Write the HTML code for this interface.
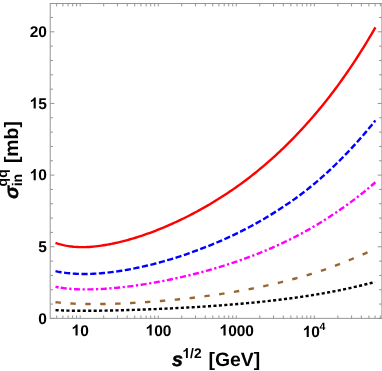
<!DOCTYPE html>
<html><head><meta charset="utf-8"><style>
html,body{margin:0;padding:0;background:#fff;}
svg{display:block;will-change:transform;}
text{font-family:"Liberation Sans",sans-serif;font-weight:bold;fill:#000;text-rendering:geometricPrecision;}
.t{font-size:15.5px;}
.l{font-size:19.4px;}
</style></head><body>
<svg width="382" height="371" viewBox="0 0 382 371">
<rect width="382" height="371" fill="#fff"/>
<path d="M55.50,310.10 L57.50,310.20 L59.49,310.30 L61.49,310.38 L63.49,310.46 L65.48,310.52 L67.48,310.58 L69.48,310.63 L71.47,310.67 L73.47,310.71 L75.47,310.73 L77.47,310.76 L79.46,310.77 L81.46,310.78 L83.46,310.79 L85.45,310.79 L87.45,310.79 L89.45,310.78 L91.44,310.77 L93.44,310.75 L95.44,310.73 L97.43,310.71 L99.43,310.69 L101.43,310.66 L103.42,310.63 L105.42,310.59 L107.42,310.56 L109.42,310.52 L111.41,310.48 L113.41,310.43 L115.41,310.39 L117.40,310.34 L119.40,310.29 L121.40,310.24 L123.39,310.18 L125.39,310.13 L127.39,310.07 L129.38,310.01 L131.38,309.95 L133.38,309.89 L135.38,309.82 L137.37,309.75 L139.37,309.69 L141.37,309.62 L143.36,309.54 L145.36,309.47 L147.36,309.39 L149.35,309.32 L151.35,309.24 L153.35,309.16 L155.34,309.08 L157.34,308.99 L159.34,308.91 L161.33,308.82 L163.33,308.73 L165.33,308.64 L167.32,308.55 L169.32,308.46 L171.32,308.36 L173.32,308.26 L175.31,308.16 L177.31,308.06 L179.31,307.96 L181.30,307.86 L183.30,307.75 L185.30,307.64 L187.29,307.53 L189.29,307.42 L191.29,307.30 L193.28,307.19 L195.28,307.07 L197.28,306.95 L199.28,306.83 L201.27,306.70 L203.27,306.58 L205.27,306.45 L207.26,306.32 L209.26,306.18 L211.26,306.05 L213.25,305.91 L215.25,305.77 L217.25,305.63 L219.24,305.48 L221.24,305.33 L223.24,305.18 L225.23,305.03 L227.23,304.88 L229.23,304.72 L231.22,304.56 L233.22,304.39 L235.22,304.23 L237.22,304.06 L239.21,303.89 L241.21,303.71 L243.21,303.53 L245.20,303.35 L247.20,303.17 L249.20,302.98 L251.19,302.79 L253.19,302.60 L255.19,302.40 L257.18,302.20 L259.18,302.00 L261.18,301.79 L263.17,301.58 L265.17,301.37 L267.17,301.15 L269.17,300.93 L271.16,300.71 L273.16,300.48 L275.16,300.25 L277.15,300.01 L279.15,299.77 L281.15,299.53 L283.14,299.28 L285.14,299.03 L287.14,298.77 L289.13,298.51 L291.13,298.24 L293.13,297.97 L295.12,297.70 L297.12,297.42 L299.12,297.13 L301.12,296.84 L303.11,296.55 L305.11,296.25 L307.11,295.95 L309.10,295.64 L311.10,295.33 L313.10,295.01 L315.09,294.68 L317.09,294.35 L319.09,294.02 L321.08,293.67 L323.08,293.33 L325.08,292.97 L327.07,292.62 L329.07,292.25 L331.07,291.88 L333.07,291.50 L335.06,291.12 L337.06,290.73 L339.06,290.33 L341.05,289.93 L343.05,289.52 L345.05,289.10 L347.04,288.67 L349.04,288.24 L351.04,287.80 L353.03,287.36 L355.03,286.90 L357.03,286.44 L359.02,285.97 L361.02,285.50 L363.02,285.01 L365.02,284.52 L367.01,284.01 L369.01,283.50 L371.01,282.99 L373.00,282.46 L375.00,281.92" fill="none" stroke="#000000" stroke-width="2.4" stroke-dasharray="3.1 2.35" stroke-dashoffset="0"/>
<path d="M55.50,302.21 L57.50,302.42 L59.50,302.62 L61.50,302.80 L63.50,302.97 L65.50,303.12 L67.50,303.26 L69.50,303.39 L71.50,303.50 L73.49,303.61 L75.49,303.70 L77.49,303.78 L79.49,303.85 L81.49,303.91 L83.49,303.97 L85.49,304.01 L87.49,304.04 L89.49,304.07 L91.49,304.09 L93.49,304.10 L95.49,304.10 L97.49,304.09 L99.49,304.08 L101.49,304.06 L103.48,304.03 L105.48,304.00 L107.48,303.96 L109.48,303.91 L111.48,303.86 L113.48,303.80 L115.48,303.73 L117.48,303.67 L119.48,303.59 L121.48,303.51 L123.48,303.42 L125.48,303.33 L127.48,303.24 L129.48,303.14 L131.48,303.03 L133.48,302.92 L135.47,302.81 L137.47,302.69 L139.47,302.56 L141.47,302.44 L143.47,302.30 L145.47,302.17 L147.47,302.02 L149.47,301.88 L151.47,301.73 L153.47,301.58 L155.47,301.42 L157.47,301.26 L159.47,301.10 L161.47,300.93 L163.47,300.76 L165.47,300.58 L167.46,300.41 L169.46,300.22 L171.46,300.04 L173.46,299.85 L175.46,299.65 L177.46,299.46 L179.46,299.25 L181.46,299.05 L183.46,298.83 L185.46,298.62 L187.46,298.40 L189.46,298.17 L191.46,297.94 L193.46,297.70 L195.46,297.46 L197.46,297.22 L199.45,296.97 L201.45,296.71 L203.45,296.45 L205.45,296.18 L207.45,295.91 L209.45,295.64 L211.45,295.36 L213.45,295.07 L215.45,294.78 L217.45,294.49 L219.45,294.19 L221.45,293.88 L223.45,293.58 L225.45,293.26 L227.45,292.94 L229.45,292.62 L231.44,292.29 L233.44,291.95 L235.44,291.61 L237.44,291.27 L239.44,290.92 L241.44,290.56 L243.44,290.20 L245.44,289.84 L247.44,289.46 L249.44,289.08 L251.44,288.70 L253.44,288.31 L255.44,287.91 L257.44,287.50 L259.44,287.09 L261.44,286.67 L263.44,286.25 L265.43,285.81 L267.43,285.37 L269.43,284.93 L271.43,284.47 L273.43,284.01 L275.43,283.55 L277.43,283.07 L279.43,282.59 L281.43,282.10 L283.43,281.61 L285.43,281.11 L287.43,280.60 L289.43,280.08 L291.43,279.56 L293.43,279.03 L295.42,278.49 L297.42,277.95 L299.42,277.39 L301.42,276.83 L303.42,276.26 L305.42,275.68 L307.42,275.10 L309.42,274.50 L311.42,273.90 L313.42,273.28 L315.42,272.66 L317.42,272.02 L319.42,271.38 L321.42,270.73 L323.42,270.06 L325.42,269.38 L327.41,268.67 L329.41,267.95 L331.41,267.21 L333.41,266.45 L335.41,265.68 L337.41,264.90 L339.41,264.11 L341.41,263.31 L343.41,262.50 L345.41,261.69 L347.41,260.88 L349.41,260.07 L351.41,259.26 L353.41,258.44 L355.41,257.61 L357.41,256.77 L359.40,255.92 L361.40,255.06 L363.40,254.19 L365.40,253.30 L367.40,252.40 L369.40,251.48 L371.40,250.55 L373.40,249.61 L375.40,248.65" fill="none" stroke="#996633" stroke-width="2.4" stroke-dasharray="5.4 9.53" stroke-dashoffset="0"/>
<path d="M55.50,286.84 L57.50,287.18 L59.50,287.51" fill="none" stroke="#ff00ff" stroke-width="2.4" stroke-dasharray="3.05 100"/>
<path d="M55.50,286.84 L57.50,287.18 L59.50,287.51 L61.50,287.81 L63.50,288.09 L65.50,288.35 L67.50,288.57 L69.50,288.78 L71.50,288.95 L73.49,289.10 L75.49,289.21 L77.49,289.29 L79.49,289.35 L81.49,289.39 L83.49,289.41 L85.49,289.42 L87.49,289.41 L89.49,289.38 L91.49,289.34 L93.49,289.29 L95.49,289.22 L97.49,289.14 L99.49,289.05 L101.49,288.95 L103.48,288.83 L105.48,288.70 L107.48,288.56 L109.48,288.41 L111.48,288.25 L113.48,288.08 L115.48,287.90 L117.48,287.71 L119.48,287.50 L121.48,287.29 L123.48,287.07 L125.48,286.84 L127.48,286.60 L129.48,286.36 L131.48,286.10 L133.48,285.84 L135.47,285.56 L137.47,285.28 L139.47,284.99 L141.47,284.69 L143.47,284.39 L145.47,284.07 L147.47,283.75 L149.47,283.42 L151.47,283.08 L153.47,282.74 L155.47,282.39 L157.47,282.03 L159.47,281.66 L161.47,281.28 L163.47,280.90 L165.47,280.51 L167.46,280.11 L169.46,279.71 L171.46,279.29 L173.46,278.87 L175.46,278.44 L177.46,278.01 L179.46,277.57 L181.46,277.11 L183.46,276.66 L185.46,276.19 L187.46,275.72 L189.46,275.24 L191.46,274.75 L193.46,274.25 L195.46,273.75 L197.46,273.23 L199.45,272.71 L201.45,272.19 L203.45,271.65 L205.45,271.11 L207.45,270.55 L209.45,269.99 L211.45,269.42 L213.45,268.85 L215.45,268.26 L217.45,267.67 L219.45,267.06 L221.45,266.45 L223.45,265.83 L225.45,265.20 L227.45,264.57 L229.45,263.92 L231.44,263.26 L233.44,262.60 L235.44,261.92 L237.44,261.24 L239.44,260.54 L241.44,259.84 L243.44,259.13 L245.44,258.40 L247.44,257.67 L249.44,256.93 L251.44,256.17 L253.44,255.41 L255.44,254.63 L257.44,253.85 L259.44,253.05 L261.44,252.24 L263.44,251.43 L265.43,250.60 L267.43,249.76 L269.43,248.90 L271.43,248.04 L273.43,247.16 L275.43,246.28 L277.43,245.38 L279.43,244.47 L281.43,243.54 L283.43,242.61 L285.43,241.66 L287.43,240.69 L289.43,239.72 L291.43,238.73 L293.43,237.73 L295.42,236.71 L297.42,235.69 L299.42,234.64 L301.42,233.58 L303.42,232.51 L305.42,231.41 L307.42,230.29 L309.42,229.15 L311.42,228.00 L313.42,226.83 L315.42,225.64 L317.42,224.43 L319.42,223.21 L321.42,221.98 L323.42,220.73 L325.42,219.47 L327.41,218.19 L329.41,216.91 L331.41,215.61 L333.41,214.29 L335.41,212.96 L337.41,211.61 L339.41,210.24 L341.41,208.85 L343.41,207.45 L345.41,206.02 L347.41,204.58 L349.41,203.12 L351.41,201.64 L353.41,200.14 L355.41,198.62 L357.41,197.08 L359.40,195.52 L361.40,193.94 L363.40,192.34 L365.40,190.71 L367.40,189.07 L369.40,187.40 L371.40,185.72 L373.40,184.01 L375.40,182.27" fill="none" stroke="#ff00ff" stroke-width="2.4" stroke-dasharray="6.1 2.5 2.27 2.5" stroke-dashoffset="8.1"/>
<path d="M55.50,271.16 L57.50,271.58 L59.50,271.95 L61.50,272.29 L63.50,272.60 L65.50,272.87 L67.50,273.11 L69.50,273.31 L71.50,273.49 L73.49,273.64 L75.49,273.76 L77.49,273.85 L79.49,273.92 L81.49,273.96 L83.49,273.98 L85.49,273.98 L87.49,273.95 L89.49,273.90 L91.49,273.83 L93.49,273.75 L95.49,273.64 L97.49,273.51 L99.49,273.37 L101.49,273.21 L103.48,273.03 L105.48,272.83 L107.48,272.62 L109.48,272.40 L111.48,272.15 L113.48,271.90 L115.48,271.62 L117.48,271.34 L119.48,271.04 L121.48,270.72 L123.48,270.40 L125.48,270.06 L127.48,269.71 L129.48,269.34 L131.48,268.96 L133.48,268.57 L135.47,268.17 L137.47,267.76 L139.47,267.33 L141.47,266.90 L143.47,266.45 L145.47,265.99 L147.47,265.52 L149.47,265.04 L151.47,264.54 L153.47,264.04 L155.47,263.53 L157.47,263.00 L159.47,262.47 L161.47,261.92 L163.47,261.36 L165.47,260.80 L167.46,260.22 L169.46,259.63 L171.46,259.03 L173.46,258.42 L175.46,257.80 L177.46,257.17 L179.46,256.52 L181.46,255.87 L183.46,255.21 L185.46,254.53 L187.46,253.85 L189.46,253.15 L191.46,252.44 L193.46,251.72 L195.46,250.99 L197.46,250.25 L199.45,249.50 L201.45,248.74 L203.45,247.97 L205.45,247.18 L207.45,246.39 L209.45,245.59 L211.45,244.77 L213.45,243.95 L215.45,243.12 L217.45,242.27 L219.45,241.41 L221.45,240.54 L223.45,239.66 L225.45,238.77 L227.45,237.87 L229.45,236.95 L231.44,236.02 L233.44,235.08 L235.44,234.12 L237.44,233.15 L239.44,232.16 L241.44,231.17 L243.44,230.15 L245.44,229.13 L247.44,228.09 L249.44,227.03 L251.44,225.96 L253.44,224.87 L255.44,223.77 L257.44,222.65 L259.44,221.51 L261.44,220.36 L263.44,219.20 L265.43,218.02 L267.43,216.82 L269.43,215.61 L271.43,214.38 L273.43,213.14 L275.43,211.88 L277.43,210.61 L279.43,209.31 L281.43,208.01 L283.43,206.69 L285.43,205.37 L287.43,204.02 L289.43,202.67 L291.43,201.29 L293.43,199.89 L295.42,198.46 L297.42,197.00 L299.42,195.52 L301.42,194.00 L303.42,192.47 L305.42,190.91 L307.42,189.33 L309.42,187.73 L311.42,186.11 L313.42,184.47 L315.42,182.81 L317.42,181.12 L319.42,179.41 L321.42,177.68 L323.42,175.92 L325.42,174.13 L327.41,172.30 L329.41,170.46 L331.41,168.58 L333.41,166.67 L335.41,164.74 L337.41,162.78 L339.41,160.80 L341.41,158.78 L343.41,156.75 L345.41,154.68 L347.41,152.60 L349.41,150.49 L351.41,148.35 L353.41,146.19 L355.41,144.00 L357.41,141.77 L359.40,139.53 L361.40,137.25 L363.40,134.94 L365.40,132.60 L367.40,130.23 L369.40,127.83 L371.40,125.40 L373.40,122.93 L375.40,120.44" fill="none" stroke="#0000ff" stroke-width="2.4" stroke-dasharray="6.2 2.514" stroke-dashoffset="0"/>
<path d="M55.50,242.89 L57.50,243.56 L59.50,244.15 L61.50,244.68 L63.50,245.16 L65.50,245.58 L67.50,245.94 L69.50,246.25 L71.50,246.51 L73.49,246.73 L75.49,246.90 L77.49,247.02 L79.49,247.11 L81.49,247.16 L83.49,247.16 L85.49,247.14 L87.49,247.07 L89.49,246.96 L91.49,246.81 L93.49,246.63 L95.49,246.41 L97.49,246.17 L99.49,245.90 L101.49,245.61 L103.48,245.29 L105.48,244.95 L107.48,244.60 L109.48,244.24 L111.48,243.86 L113.48,243.45 L115.48,243.03 L117.48,242.58 L119.48,242.12 L121.48,241.64 L123.48,241.13 L125.48,240.61 L127.48,240.07 L129.48,239.51 L131.48,238.94 L133.48,238.34 L135.47,237.73 L137.47,237.11 L139.47,236.46 L141.47,235.81 L143.47,235.13 L145.47,234.44 L147.47,233.73 L149.47,233.01 L151.47,232.28 L153.47,231.52 L155.47,230.76 L157.47,229.97 L159.47,229.18 L161.47,228.36 L163.47,227.54 L165.47,226.70 L167.46,225.84 L169.46,224.97 L171.46,224.08 L173.46,223.18 L175.46,222.27 L177.46,221.34 L179.46,220.39 L181.46,219.43 L183.46,218.46 L185.46,217.47 L187.46,216.47 L189.46,215.45 L191.46,214.41 L193.46,213.36 L195.46,212.30 L197.46,211.22 L199.45,210.12 L201.45,209.01 L203.45,207.88 L205.45,206.74 L207.45,205.59 L209.45,204.42 L211.45,203.24 L213.45,202.04 L215.45,200.82 L217.45,199.59 L219.45,198.34 L221.45,197.08 L223.45,195.80 L225.45,194.50 L227.45,193.18 L229.45,191.84 L231.44,190.49 L233.44,189.12 L235.44,187.73 L237.44,186.32 L239.44,184.89 L241.44,183.44 L243.44,181.97 L245.44,180.47 L247.44,178.96 L249.44,177.43 L251.44,175.87 L253.44,174.29 L255.44,172.69 L257.44,171.08 L259.44,169.44 L261.44,167.77 L263.44,166.09 L265.43,164.39 L267.43,162.66 L269.43,160.91 L271.43,159.14 L273.43,157.34 L275.43,155.52 L277.43,153.68 L279.43,151.81 L281.43,149.92 L283.43,148.01 L285.43,146.07 L287.43,144.10 L289.43,142.11 L291.43,140.09 L293.43,138.05 L295.42,135.98 L297.42,133.89 L299.42,131.76 L301.42,129.62 L303.42,127.44 L305.42,125.24 L307.42,123.02 L309.42,120.77 L311.42,118.50 L313.42,116.19 L315.42,113.86 L317.42,111.50 L319.42,109.11 L321.42,106.69 L323.42,104.23 L325.42,101.75 L327.41,99.23 L329.41,96.67 L331.41,94.08 L333.41,91.45 L335.41,88.79 L337.41,86.09 L339.41,83.35 L341.41,80.57 L343.41,77.75 L345.41,74.90 L347.41,72.01 L349.41,69.09 L351.41,66.13 L353.41,63.12 L355.41,60.08 L357.41,57.01 L359.40,53.89 L361.40,50.73 L363.40,47.53 L365.40,44.29 L367.40,41.00 L369.40,37.68 L371.40,34.31 L373.40,30.90 L375.40,27.44" fill="none" stroke="#ff0000" stroke-width="2.4"/>
<rect x="50.2" y="3.5" width="331.7" height="314.85" fill="none" stroke="#959595" stroke-width="1"/>
<path d="M50.2,318.40h4.2M381.9,318.40h-4.2M50.2,304.07h2.8M381.9,304.07h-2.8M50.2,289.74h2.8M381.9,289.74h-2.8M50.2,275.41h2.8M381.9,275.41h-2.8M50.2,261.08h2.8M381.9,261.08h-2.8M50.2,246.75h4.2M381.9,246.75h-4.2M50.2,232.42h2.8M381.9,232.42h-2.8M50.2,218.09h2.8M381.9,218.09h-2.8M50.2,203.76h2.8M381.9,203.76h-2.8M50.2,189.43h2.8M381.9,189.43h-2.8M50.2,175.10h4.2M381.9,175.10h-4.2M50.2,160.77h2.8M381.9,160.77h-2.8M50.2,146.44h2.8M381.9,146.44h-2.8M50.2,132.11h2.8M381.9,132.11h-2.8M50.2,117.78h2.8M381.9,117.78h-2.8M50.2,103.45h4.2M381.9,103.45h-4.2M50.2,89.12h2.8M381.9,89.12h-2.8M50.2,74.79h2.8M381.9,74.79h-2.8M50.2,60.46h2.8M381.9,60.46h-2.8M50.2,46.13h2.8M381.9,46.13h-2.8M50.2,31.80h4.2M381.9,31.80h-4.2M50.2,17.47h2.8M381.9,17.47h-2.8M56.70,318.35v-2.9M56.70,3.5v2.9M62.88,318.35v-2.9M62.88,3.5v2.9M68.11,318.35v-2.9M68.11,3.5v2.9M72.64,318.35v-2.9M72.64,3.5v2.9M76.63,318.35v-2.9M76.63,3.5v2.9M80.20,318.35v-2.9M80.20,3.5v2.9M103.70,318.35v-2.9M103.70,3.5v2.9M117.44,318.35v-2.9M117.44,3.5v2.9M127.19,318.35v-2.9M127.19,3.5v2.9M134.75,318.35v-2.9M134.75,3.5v2.9M140.93,318.35v-2.9M140.93,3.5v2.9M146.16,318.35v-2.9M146.16,3.5v2.9M150.69,318.35v-2.9M150.69,3.5v2.9M154.68,318.35v-2.9M154.68,3.5v2.9M158.25,318.35v-2.9M158.25,3.5v2.9M181.75,318.35v-2.9M181.75,3.5v2.9M195.49,318.35v-2.9M195.49,3.5v2.9M205.24,318.35v-2.9M205.24,3.5v2.9M212.80,318.35v-2.9M212.80,3.5v2.9M218.98,318.35v-2.9M218.98,3.5v2.9M224.21,318.35v-2.9M224.21,3.5v2.9M228.74,318.35v-2.9M228.74,3.5v2.9M232.73,318.35v-2.9M232.73,3.5v2.9M236.30,318.35v-2.9M236.30,3.5v2.9M259.80,318.35v-2.9M259.80,3.5v2.9M273.54,318.35v-2.9M273.54,3.5v2.9M283.29,318.35v-2.9M283.29,3.5v2.9M290.85,318.35v-2.9M290.85,3.5v2.9M297.03,318.35v-2.9M297.03,3.5v2.9M302.26,318.35v-2.9M302.26,3.5v2.9M306.79,318.35v-2.9M306.79,3.5v2.9M310.78,318.35v-2.9M310.78,3.5v2.9M314.35,318.35v-2.9M314.35,3.5v2.9M337.85,318.35v-2.9M337.85,3.5v2.9M351.59,318.35v-2.9M351.59,3.5v2.9M361.34,318.35v-2.9M361.34,3.5v2.9M368.90,318.35v-2.9M368.90,3.5v2.9M375.08,318.35v-2.9M375.08,3.5v2.9M380.31,318.35v-2.9M380.31,3.5v2.9" stroke="#959595" stroke-width="1" fill="none"/>
<g opacity="0.999"><text x="38.28" y="323.55" font-size="15.5">0</text>
<text x="38.28" y="251.90" font-size="15.5">5</text>
<path d="M806 0H525V1059Q371 915 162 846V1101Q272 1137 401 1237.5T578 1472H806Z" transform="translate(29.66,180.25) scale(0.00757,-0.00757)" fill="#000"/><text x="38.28" y="180.25" font-size="15.5">0</text>
<path d="M806 0H525V1059Q371 915 162 846V1101Q272 1137 401 1237.5T578 1472H806Z" transform="translate(29.66,108.60) scale(0.00757,-0.00757)" fill="#000"/><text x="38.28" y="108.60" font-size="15.5">5</text>
<text x="29.66" y="36.95" font-size="15.5">2</text><text x="38.28" y="36.95" font-size="15.5">0</text>
<path d="M806 0H525V1059Q371 915 162 846V1101Q272 1137 401 1237.5T578 1472H806Z" transform="translate(71.53,335.60) scale(0.00757,-0.00757)" fill="#000"/><text x="80.15" y="335.60" font-size="15.5">0</text>
<path d="M806 0H525V1059Q371 915 162 846V1101Q272 1137 401 1237.5T578 1472H806Z" transform="translate(145.57,335.60) scale(0.00757,-0.00757)" fill="#000"/><text x="154.19" y="335.60" font-size="15.5">0</text><text x="162.81" y="335.60" font-size="15.5">0</text>
<path d="M806 0H525V1059Q371 915 162 846V1101Q272 1137 401 1237.5T578 1472H806Z" transform="translate(219.51,335.60) scale(0.00757,-0.00757)" fill="#000"/><text x="228.13" y="335.60" font-size="15.5">0</text><text x="236.75" y="335.60" font-size="15.5">0</text><text x="245.37" y="335.60" font-size="15.5">0</text>
<path d="M806 0H525V1059Q371 915 162 846V1101Q272 1137 401 1237.5T578 1472H806Z" transform="translate(302.70,337.00) scale(0.00757,-0.00757)" fill="#000"/><text x="311.32" y="337.00" font-size="15.5">0</text>
<text x="319.60" y="329.80" font-size="10.6">4</text>
<text x="172.1" y="366.35" font-style="italic" font-size="19.7" stroke="#000" stroke-width="0.5">s</text>
<path d="M806 0H525V1059Q371 915 162 846V1101Q272 1137 401 1237.5T578 1472H806Z" transform="translate(182.40,358.00) scale(0.00674,-0.00674)" fill="#000"/><text x="190.07" y="358.00" font-size="13.8">/</text><text x="193.91" y="358.00" font-size="13.8">2</text>
<text x="208.5" y="366.0" class="l">[GeV]</text>
<g transform="translate(18.1,199.4) rotate(-90)"><text x="0.6" y="-0.4" font-style="italic" font-size="19.3" stroke="#000" stroke-width="0.5">σ</text><text x="13.0" y="-10.9" font-size="14">qq</text><text x="13.1" y="3.8" font-size="14">in</text><text x="36.3" y="-0.3" class="l">[mb]</text></g></g>
</svg>
</body></html>
